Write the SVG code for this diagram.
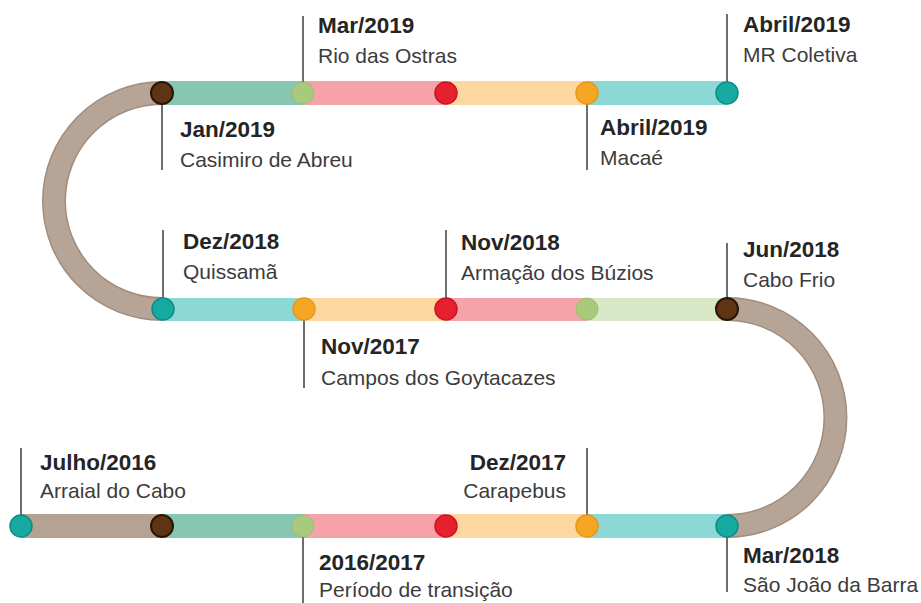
<svg xmlns="http://www.w3.org/2000/svg" width="921" height="603" viewBox="0 0 921 603">
<style>
.d{font-family:"Liberation Sans",Arial,sans-serif;font-size:22.5px;font-weight:bold;fill:#252525}
.p{font-family:"Liberation Sans",Arial,sans-serif;font-size:21px;fill:#3c3c3c}
.ld{stroke:#4a4a4a;stroke-width:1.6}
.arc{fill:none;stroke:#a08d7e;stroke-width:24}
.arci{fill:none;stroke:#b6a496;stroke-width:21}
.s-teal{fill:#8bd8d5}.s-sea{fill:#88c6b4}.s-pink{fill:#f5a2a8}.s-org{fill:#fcd79f}.s-grn{fill:#d8e7c6}.s-brn{fill:#b5a292}
.c-teal{fill:#17aaa2;stroke:#0e8d86;stroke-width:1.5}
.c-brn{fill:#5e3414;stroke:#2a1606;stroke-width:2}
.c-grn{fill:#a9c97c;stroke:#9dbf70;stroke-width:1}
.c-red{fill:#e5212f;stroke:#c91524;stroke-width:1.5}
.c-org{fill:#f5a623;stroke:#e9981a;stroke-width:1.5}
</style>
<g id="connectors">
<path class="arc" d="M162,93 A108,108 0 0 0 162,309"/>
<path class="arci" d="M162,93 A108,108 0 0 0 162,309"/>
<path class="arc" d="M727,309 A108.5,108.5 0 0 1 727,526"/>
<path class="arci" d="M727,309 A108.5,108.5 0 0 1 727,526"/>
<rect class="s-sea" x="162" y="81" width="141" height="24"/>
<rect class="s-pink" x="303" y="81" width="143" height="24"/>
<rect class="s-org" x="446" y="81" width="141" height="24"/>
<rect class="s-teal" x="587" y="81" width="140" height="24"/>
<rect class="s-teal" x="163" y="298" width="141" height="23"/>
<rect class="s-org" x="304" y="298" width="142" height="23"/>
<rect class="s-pink" x="446" y="298" width="141" height="23"/>
<rect class="s-grn" x="587" y="298" width="140" height="23"/>
<rect class="s-brn" x="21" y="514" width="141" height="24"/>
<rect class="s-sea" x="162" y="514" width="141" height="24"/>
<rect class="s-pink" x="303" y="514" width="143" height="24"/>
<rect class="s-org" x="446" y="514" width="141" height="24"/>
<rect class="s-teal" x="587" y="514" width="140" height="24"/>
</g>
<g id="jan2019"><line class="ld" x1="162" y1="93" x2="162" y2="170"/><circle class="c-brn" cx="162" cy="93" r="11"/><text class="d" x="180" y="137">Jan/2019</text><text class="p" x="180" y="167">Casimiro de Abreu</text></g>
<g id="mar2019"><line class="ld" x1="303" y1="16" x2="303" y2="93"/><circle class="c-grn" cx="303" cy="93" r="11"/><text class="d" x="318" y="33">Mar/2019</text><text class="p" x="318" y="63">Rio das Ostras</text></g>
<g id="red1"><circle class="c-red" cx="446" cy="93" r="11"/></g>
<g id="abr2019a"><line class="ld" x1="587" y1="93" x2="587" y2="170"/><circle class="c-org" cx="587" cy="93" r="11"/><text class="d" x="600" y="135">Abril/2019</text><text class="p" x="600" y="165">Macaé</text></g>
<g id="abr2019b"><line class="ld" x1="727" y1="14" x2="727" y2="93"/><circle class="c-teal" cx="727" cy="93" r="11"/><text class="d" x="743" y="32">Abril/2019</text><text class="p" x="743" y="62">MR Coletiva</text></g>
<g id="dez2018"><line class="ld" x1="163" y1="230" x2="163" y2="309"/><circle class="c-teal" cx="163" cy="309" r="11"/><text class="d" x="183" y="249">Dez/2018</text><text class="p" x="183" y="279">Quissamã</text></g>
<g id="nov2017"><line class="ld" x1="304" y1="309" x2="304" y2="388"/><circle class="c-org" cx="304" cy="309" r="11"/><text class="d" x="321" y="354">Nov/2017</text><text class="p" x="321" y="385">Campos dos Goytacazes</text></g>
<g id="nov2018"><line class="ld" x1="446" y1="230" x2="446" y2="309"/><circle class="c-red" cx="446" cy="309" r="11"/><text class="d" x="461" y="250">Nov/2018</text><text class="p" x="461" y="280">Armação dos Búzios</text></g>
<g id="green2"><circle class="c-grn" cx="587" cy="309" r="11"/></g>
<g id="jun2018"><line class="ld" x1="727" y1="243" x2="727" y2="309"/><circle class="c-brn" cx="727" cy="309" r="11"/><text class="d" x="743" y="257">Jun/2018</text><text class="p" x="743" y="287">Cabo Frio</text></g>
<g id="jul2016"><line class="ld" x1="21" y1="448" x2="21" y2="526"/><circle class="c-teal" cx="21" cy="526" r="11"/><text class="d" x="40" y="470">Julho/2016</text><text class="p" x="40" y="498">Arraial do Cabo</text></g>
<g id="brn3"><circle class="c-brn" cx="162" cy="526" r="11"/></g>
<g id="y20162017"><line class="ld" x1="303" y1="526" x2="303" y2="603"/><circle class="c-grn" cx="303" cy="526" r="11"/><text class="d" x="319" y="570">2016/2017</text><text class="p" x="319" y="597">Período de transição</text></g>
<g id="red3"><circle class="c-red" cx="446" cy="526" r="11"/></g>
<g id="dez2017"><line class="ld" x1="587" y1="448" x2="587" y2="526"/><circle class="c-org" cx="587" cy="526" r="11"/><text class="d" x="566" y="470" text-anchor="end">Dez/2017</text><text class="p" x="566" y="498" text-anchor="end">Carapebus</text></g>
<g id="mar2018"><line class="ld" x1="727" y1="526" x2="727" y2="592"/><circle class="c-teal" cx="727" cy="526" r="11"/><text class="d" x="743" y="563">Mar/2018</text><text class="p" x="743" y="592">São João da Barra</text></g>
</svg>
